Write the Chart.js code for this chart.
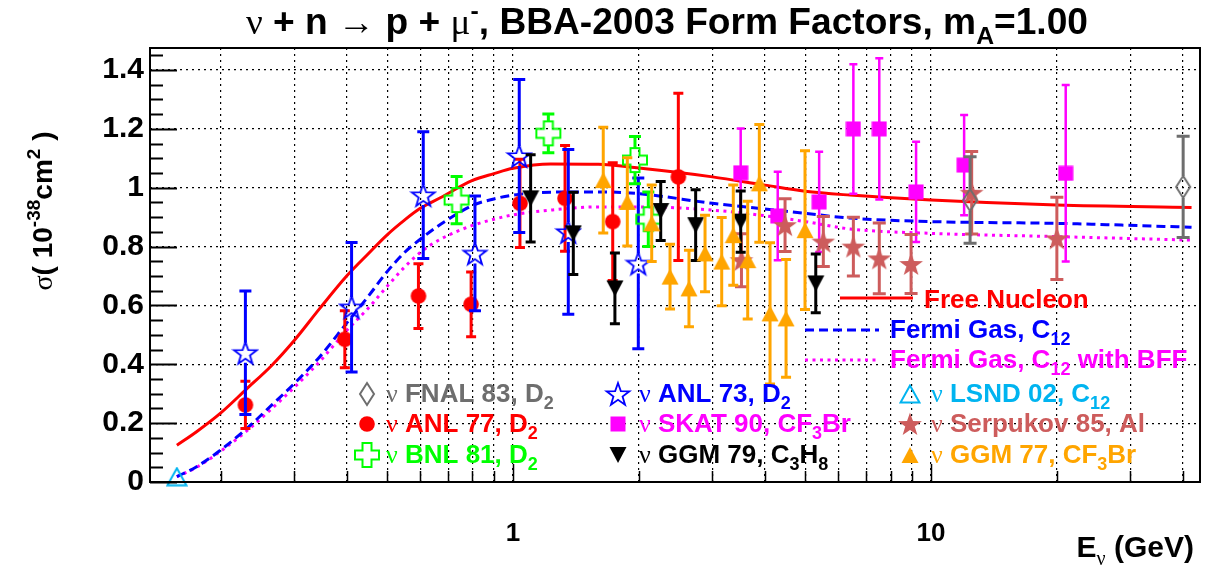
<!DOCTYPE html>
<html>
<head>
<meta charset="utf-8">
<title>CCQE cross section</title>
<script src="https://cdn.jsdelivr.net/npm/chart.js@4/dist/chart.umd.min.js"></script>
<style>
  html, body { margin: 0; padding: 0; background: #fff; }
  canvas { display: block; }
</style>
</head>
<body>
<canvas id="chart" width="1210" height="567"></canvas>
<script>
// ---- axis ranges / ticks ----
const xMin = 0.1354, xMax = 44;
const yMin = 0, yMax = 1.475;
const xGridTicks = [0.2, 0.3, 0.4, 0.5, 0.6, 0.7, 0.8, 0.9, 1, 2, 3, 4, 5, 6, 7, 8, 9, 10, 20, 30, 40];
const xLabelTicks = [1, 10];
const xTickLabels = ['1', '10'];
const yMajor = [0, 0.2, 0.4, 0.6, 0.8, 1, 1.2, 1.4];
const yTickLabels = ['0', '0.2', '0.4', '0.6', '0.8', '1', '1.2', '1.4'];

// ---- model curves ----
const curveE       = [0.157, 0.175, 0.2, 0.23, 0.265, 0.3, 0.345, 0.4, 0.45, 0.5, 0.55, 0.6, 0.67, 0.8, 0.9, 1.0, 1.23, 1.6, 2.0, 3.0, 4.0, 5.0, 6.4, 10, 20, 42];
const freeNucleon  = [0.125, 0.171, 0.235, 0.315, 0.397, 0.482, 0.59, 0.70, 0.775, 0.84, 0.89, 0.93, 0.966, 1.025, 1.048, 1.066, 1.081, 1.08, 1.067, 1.037, 1.009, 0.988, 0.975, 0.958, 0.941, 0.933];
const fermiGas     = [0.018, 0.052, 0.109, 0.18, 0.262, 0.335, 0.426, 0.54, 0.63, 0.715, 0.78, 0.825, 0.875, 0.94, 0.962, 0.975, 0.985, 0.986, 0.98, 0.947, 0.928, 0.913, 0.897, 0.885, 0.879, 0.866];
const fermiGasBFF  = [0.018, 0.05, 0.105, 0.172, 0.25, 0.322, 0.41, 0.515, 0.59, 0.665, 0.73, 0.78, 0.825, 0.872, 0.893, 0.908, 0.924, 0.935, 0.935, 0.924, 0.905, 0.885, 0.86, 0.845, 0.834, 0.822];

// ---- measurements (E, sigma, error) ----
const fnalE = [12.4, 40.1];
const fnalS = [0.958, 1.003];
const fnalErr = [0.147, 0.172];

const anl77E = [0.229, 0.396, 0.594, 0.794, 1.039, 1.332, 1.732, 2.486];
const anl77S = [0.262, 0.485, 0.632, 0.604, 0.947, 0.964, 0.885, 1.037];
const anl77Err = [0.08, 0.097, 0.11, 0.11, 0.15, 0.18, 0.2, 0.284];

const bnlE = [0.733, 1.215, 1.958, 2.107];
const bnlS = [0.958, 1.185, 1.094, 0.893];
const bnlErr = [0.08, 0.066, 0.08, 0.093];

const anl73E = [0.229, 0.411, 0.61, 0.811, 1.035, 1.356, 1.994];
const anl73S = [0.439, 0.594, 0.975, 0.777, 1.108, 0.85, 0.743];
const anl73Err = [0.21, 0.22, 0.215, 0.195, 0.26, 0.28, 0.29];

const skatE = [3.505, 4.298, 5.4, 6.52, 7.52, 9.21, 12.0, 21.0];
const skatS = [1.051, 0.904, 0.952, 1.2, 1.2, 0.986, 1.077, 1.049];
const skatErr = [0.15, 0.15, 0.17, 0.22, 0.24, 0.17, 0.17, 0.3];

const ggm79E = [1.102, 1.394, 1.753, 2.256, 2.735, 3.505, 5.3];
const ggm79S = [0.964, 0.845, 0.658, 0.921, 0.873, 0.885, 0.675];
const ggm79Err = [0.148, 0.14, 0.12, 0.1, 0.12, 0.104, 0.1];

const lsndE = [0.157];
const lsndS = [0.018];
const lsndErr = [0];

const serpE = [3.52, 4.475, 5.525, 6.52, 7.52, 8.96, 12.51, 20.0];
const serpS = [0.754, 0.873, 0.817, 0.8, 0.76, 0.741, 0.983, 0.828];
const serpErr = [0.09, 0.09, 0.085, 0.1, 0.12, 0.1, 0.14, 0.14];

const ggm77E = [1.644, 1.877, 2.147, 2.375, 2.636, 2.88, 3.157, 3.365, 3.643, 3.884, 4.12, 4.5, 4.995];
const ggm77S = [1.026, 0.952, 0.879, 0.698, 0.658, 0.777, 0.749, 0.839, 0.754, 1.015, 0.573, 0.556, 0.856];
const ggm77Err = [0.18, 0.15, 0.13, 0.11, 0.13, 0.13, 0.15, 0.17, 0.2, 0.2, 0.24, 0.2, 0.27];

// ---- colours / fonts ----
const RED = '#ff0000', BLUE = '#0000ff', MAG = '#ff00ff', GREEN = '#00ff00';
const GREY = '#6e6e6e', CYAN = '#00b4f0', IRED = '#cd5c5c', ORANGE = '#ffa500', BLACK = '#000000';
const FONT = '"Liberation Sans", Arial, Helvetica, sans-serif';
const GREEK = '"Liberation Serif", "DejaVu Serif", serif';

// ---- marker images ----
function marker(w, h, fn) {
    const c = document.createElement('canvas');
    c.width = w; c.height = h;
    fn(c.getContext('2d'), w / 2, h / 2);
    return c;
}
function starPath(g, cx, cy, ro, ri) {
    g.beginPath();
    for (let i = 0; i < 10; i++) {
        const r = i % 2 ? ri : ro;
        const a = -Math.PI / 2 + i * Math.PI / 5;
        g.lineTo(cx + r * Math.cos(a), cy + r * Math.sin(a));
    }
    g.closePath();
}
function triPath(g, cx, cy, hw, hh, down) {
    const s = down ? -1 : 1;
    g.beginPath();
    g.moveTo(cx, cy - s * hh);
    g.lineTo(cx + hw, cy + s * hh);
    g.lineTo(cx - hw, cy + s * hh);
    g.closePath();
}
const mk = {
    diamond: marker(18, 26, (g, cx, cy) => {
        g.strokeStyle = GREY; g.lineWidth = 2;
        g.beginPath(); g.moveTo(cx, cy - 11); g.lineTo(cx + 7, cy); g.lineTo(cx, cy + 11); g.lineTo(cx - 7, cy); g.closePath();
        g.stroke();
    }),
    circle: marker(18, 18, (g, cx, cy) => {
        g.fillStyle = RED; g.beginPath(); g.arc(cx, cy, 7.8, 0, 2 * Math.PI); g.fill();
    }),
    cross: marker(28, 28, (g, cx, cy) => {
        const a = 4.5, b = 12;
        g.strokeStyle = GREEN; g.lineWidth = 2;
        g.beginPath();
        g.moveTo(cx - a, cy - b); g.lineTo(cx + a, cy - b); g.lineTo(cx + a, cy - a); g.lineTo(cx + b, cy - a);
        g.lineTo(cx + b, cy + a); g.lineTo(cx + a, cy + a); g.lineTo(cx + a, cy + b); g.lineTo(cx - a, cy + b);
        g.lineTo(cx - a, cy + a); g.lineTo(cx - b, cy + a); g.lineTo(cx - b, cy - a); g.lineTo(cx - a, cy - a);
        g.closePath(); g.stroke();
    }),
    openStar: marker(28, 28, (g, cx, cy) => {
        g.strokeStyle = BLUE; g.lineWidth = 1.8; g.lineJoin = 'miter';
        starPath(g, cx, cy + 1, 12, 4.8); g.stroke();
    }),
    square: marker(16, 16, (g) => { g.fillStyle = MAG; g.fillRect(0.5, 0.5, 15, 15); }),
    downTri: marker(18, 18, (g, cx, cy) => { g.fillStyle = BLACK; triPath(g, cx, cy, 8.5, 8, true); g.fill(); }),
    openTri: marker(22, 20, (g, cx, cy) => { g.strokeStyle = CYAN; g.lineWidth = 2; triPath(g, cx, cy, 9.5, 8.5, false); g.stroke(); }),
    star: marker(28, 28, (g, cx, cy) => { g.fillStyle = IRED; starPath(g, cx, cy + 1, 12.5, 5); g.fill(); }),
    upTri: marker(18, 18, (g, cx, cy) => { g.fillStyle = ORANGE; triPath(g, cx, cy, 8.5, 8, false); g.fill(); })
};

const pts = (e, s) => e.map((v, i) => ({ x: v, y: s[i] }));

function curve(label, s, color, dash, width) {
    return {
        label, data: pts(curveE, s), showLine: true, borderColor: color, borderWidth: width,
        borderDash: dash, pointRadius: 0, cubicInterpolationMode: 'monotone', order: 100
    };
}
function points(label, e, s, err, style, color, cap, gap, order, width) {
    return {
        label, data: pts(e, s), err, errColor: color, cap, gap, errWidth: width || 3,
        pointStyle: style, showLine: false, order, clip: false
    };
}

// ---- rich text (sub/superscripts, greek) ----
function layoutRich(ctx, segs, size) {
    let w = 0;
    const parts = segs.map(([t, k]) => {
        const small = k === 'sub' || k === 'sup' || k === 'gsub';
        const s = small ? Math.round(size * 0.68) : size;
        const greek = k === 'g' || k === 'gsub';
        const font = greek ? `${s}px ${GREEK}` : `bold ${s}px ${FONT}`;
        ctx.font = font;
        const tw = ctx.measureText(t).width;
        const dy = (k === 'sub' || k === 'gsub') ? size * 0.27 : (k === 'sup' ? -size * 0.42 : 0);
        w += tw;
        return { t, font, tw, dy };
    });
    return { parts, w };
}
function drawRich(ctx, segs, x, y, size, color, align) {
    const { parts, w } = layoutRich(ctx, segs, size);
    let cx = align === 'right' ? x - w : (align === 'center' ? x - w / 2 : x);
    ctx.fillStyle = color;
    ctx.textAlign = 'left';
    ctx.textBaseline = 'alphabetic';
    for (const p of parts) { ctx.font = p.font; ctx.fillText(p.t, cx, y + p.dy); cx += p.tw; }
    return w;
}

// ---- plugins ----
const errorBars = {
    id: 'errorBars',
    beforeDatasetDraw(chart, args) {
        const ds = chart.data.datasets[args.index];
        if (!ds.err) return;
        const { ctx, scales: { x, y } } = chart;
        ctx.save();
        ctx.strokeStyle = ds.errColor;
        ctx.lineWidth = ds.errWidth;
        ds.data.forEach((p, i) => {
            const e = ds.err[i];
            if (!e) return;
            const px = x.getPixelForValue(p.x);
            const yt = y.getPixelForValue(p.y + e);
            const yb = y.getPixelForValue(p.y - e);
            const yc = y.getPixelForValue(p.y);
            const c = ds.cap / 2;
            ctx.beginPath();
            ctx.moveTo(px, yt); ctx.lineTo(px, yc - ds.gap);
            ctx.moveTo(px, yc + ds.gap); ctx.lineTo(px, yb);
            ctx.moveTo(px - c, yt); ctx.lineTo(px + c, yt);
            ctx.moveTo(px - c, yb); ctx.lineTo(px + c, yb);
            ctx.stroke();
        });
        ctx.restore();
    }
};

const frame = {
    id: 'frame',
    afterDatasetsDraw(chart) {
        const { ctx, chartArea: a, scales: { x, y } } = chart;
        ctx.save();
        ctx.strokeStyle = '#000';
        ctx.lineWidth = 2;
        ctx.strokeRect(a.left, a.top, a.right - a.left, a.bottom - a.top);
        ctx.beginPath();
        // y ticks inside frame, minor every 0.05
        for (let k = 0; k * 0.05 <= yMax; k++) {
            const py = Math.round(y.getPixelForValue(k * 0.05)) + 0.5;
            const len = k % 4 === 0 ? 27 : 13;
            ctx.moveTo(a.left, py); ctx.lineTo(a.left + len, py);
        }
        ctx.stroke();
        ctx.lineWidth = 1.5;
        ctx.beginPath();
        xGridTicks.forEach(v => {
            const px = Math.round(x.getPixelForValue(v)) + 0.5;
            const len = xLabelTicks.includes(v) ? 18 : 11;
            ctx.moveTo(px, a.bottom); ctx.lineTo(px, a.bottom - len);
        });
        ctx.stroke();
        ctx.restore();
    }
};

const texts = {
    id: 'texts',
    afterDraw(chart) {
        const { ctx, scales: { x } } = chart;
        ctx.save();

        // title
        const titleSegs = [['ν', 'g'], [' + n ', 'n'], ['→', 'g'], [' p + ', 'n'], ['μ', 'g'], ['-', 'sup'],
            [', BBA-2003 Form Factors, m', 'n'], ['A', 'sub'], ['=1.00', 'n']];
        const tl = layoutRich(ctx, titleSegs, 36);
        ctx.save();
        ctx.translate(667, 34);
        ctx.scale(842 / tl.w, 1);
        drawRich(ctx, titleSegs, 0, 0, 36, '#000', 'center');
        ctx.restore();

        // x tick labels
        xLabelTicks.forEach((v, i) => {
            drawRich(ctx, [[xTickLabels[i], 'n']], x.getPixelForValue(v), 541, 26, '#000', 'center');
        });

        // y axis title
        ctx.save();
        ctx.translate(52, 211);
        ctx.rotate(-Math.PI / 2);
        drawRich(ctx, [['σ', 'g'], ['( 10', 'n'], ['-38', 'sup'], ['cm', 'n'], ['2', 'sup'], [' )', 'n']], 0, 0, 28, '#000', 'center');
        ctx.restore();

        // x axis title
        drawRich(ctx, [['E', 'n'], ['ν', 'gsub'], [' (GeV)', 'n']], 1194, 557, 30, '#000', 'right');

        // marker legend
        const rows = [402, 432, 463];
        const cols = [
            { mx: 367, tx: 386, items: [
                [mk.diamond, GREY, [['ν', 'g'], [' FNAL 83, D', 'n'], ['2', 'sub']]],
                [mk.circle, RED, [['ν', 'g'], [' ANL 77, D', 'n'], ['2', 'sub']]],
                [mk.cross, GREEN, [['ν', 'g'], [' BNL 81, D', 'n'], ['2', 'sub']]]] },
            { mx: 618, tx: 639, items: [
                [mk.openStar, BLUE, [['ν', 'g'], [' ANL 73, D', 'n'], ['2', 'sub']]],
                [mk.square, MAG, [['ν', 'g'], [' SKAT 90, CF', 'n'], ['3', 'sub'], ['Br', 'n']]],
                [mk.downTri, BLACK, [['ν', 'g'], [' GGM 79, C', 'n'], ['3', 'sub'], ['H', 'n'], ['8', 'sub']]]] },
            { mx: 910, tx: 931, items: [
                [mk.openTri, CYAN, [['ν', 'g'], [' LSND 02, C', 'n'], ['12', 'sub']]],
                [mk.star, IRED, [['ν', 'g'], [' Serpukov 85, Al', 'n']]],
                [mk.upTri, ORANGE, [['ν', 'g'], [' GGM 77, CF', 'n'], ['3', 'sub'], ['Br', 'n']]]] }
        ];
        cols.forEach(col => col.items.forEach(([img, color, segs], i) => {
            const cy = rows[i] - 8;
            ctx.drawImage(img, col.mx - img.width / 2, cy - img.height / 2);
            drawRich(ctx, segs, col.tx, rows[i], 26, color, 'left');
        }));

        // line legend
        const lines = [
            { x1: 840, x2: 913, y: 298, color: RED, dash: [], tx: 924, ty: 308, segs: [['Free Nucleon', 'n']] },
            { x1: 805, x2: 879, y: 330, color: BLUE, dash: [9, 5], tx: 890, ty: 338, segs: [['Fermi Gas, C', 'n'], ['12', 'sub']] },
            { x1: 805, x2: 879, y: 360, color: MAG, dash: [3, 4.5], tx: 890, ty: 368, segs: [['Fermi Gas, C', 'n'], ['12', 'sub'], [' with BFF', 'n']] }
        ];
        lines.forEach(l => {
            ctx.save();
            ctx.strokeStyle = l.color; ctx.lineWidth = 3; ctx.setLineDash(l.dash);
            ctx.beginPath(); ctx.moveTo(l.x1, l.y); ctx.lineTo(l.x2, l.y); ctx.stroke();
            ctx.restore();
            drawRich(ctx, l.segs, l.tx, l.ty, 26, l.color, 'left');
        });
        ctx.restore();
    }
};

// ---- chart ----
new Chart(document.getElementById('chart'), {
    type: 'scatter',
    data: {
        datasets: [
            curve('Free Nucleon', freeNucleon, RED, [], 3),
            curve('Fermi Gas, C12', fermiGas, BLUE, [9, 5], 3),
            curve('Fermi Gas, C12 with BFF', fermiGasBFF, MAG, [3, 4.5], 3),
            points('ANL 77, D2', anl77E, anl77S, anl77Err, mk.circle, RED, 10, 0, 9),
            points('ANL 73, D2', anl73E, anl73S, anl73Err, mk.openStar, BLUE, 12, 10, 8),
            points('BNL 81, D2', bnlE, bnlS, bnlErr, mk.cross, GREEN, 12, 12, 7),
            points('SKAT 90, CF3Br', skatE, skatS, skatErr, mk.square, MAG, 8, 0, 6, 2.5),
            points('Serpukov 85, Al', serpE, serpS, serpErr, mk.star, IRED, 13, 0, 5),
            points('GGM 79, C3H8', ggm79E, ggm79S, ggm79Err, mk.downTri, BLACK, 10, 0, 4),
            points('GGM 77, CF3Br', ggm77E, ggm77S, ggm77Err, mk.upTri, ORANGE, 10, 0, 3),
            points('LSND 02, C12', lsndE, lsndS, lsndErr, mk.openTri, CYAN, 10, 0, 2),
            points('FNAL 83, D2', fnalE, fnalS, fnalErr, mk.diamond, GREY, 13, 11, 1)
        ]
    },
    options: {
        responsive: false,
        animation: false,
        layout: { padding: { top: 48, right: 10, left: 0, bottom: 0 } },
        plugins: { legend: { display: false }, tooltip: { enabled: false }, title: { display: false } },
        scales: {
            x: {
                type: 'logarithmic',
                min: xMin,
                max: xMax,
                afterBuildTicks: s => { s.ticks = xGridTicks.map(v => ({ value: v })); },
                afterFit: s => { s.height = 85; },
                grid: { color: '#000', lineWidth: 1.2, drawTicks: false },
                border: { display: false, dash: [2, 4] },
                ticks: { display: false }
            },
            y: {
                type: 'linear',
                min: yMin,
                max: yMax,
                afterBuildTicks: s => { s.ticks = yMajor.map(v => ({ value: v })); },
                afterFit: s => { s.width = 150; },
                grid: {
                    lineWidth: 1.2, drawTicks: false,
                    color: c => (c.tick && c.tick.value > 0 ? '#000' : 'rgba(0,0,0,0)')
                },
                border: { display: false, dash: [2, 4] },
                ticks: {
                    autoSkip: false, padding: 6, color: '#000',
                    font: { family: FONT, weight: 'bold', size: 30 },
                    callback: v => { const i = yMajor.indexOf(v); return i >= 0 ? yTickLabels[i] : ''; }
                }
            }
        }
    },
    plugins: [errorBars, frame, texts]
});
</script>
</body>
</html>
